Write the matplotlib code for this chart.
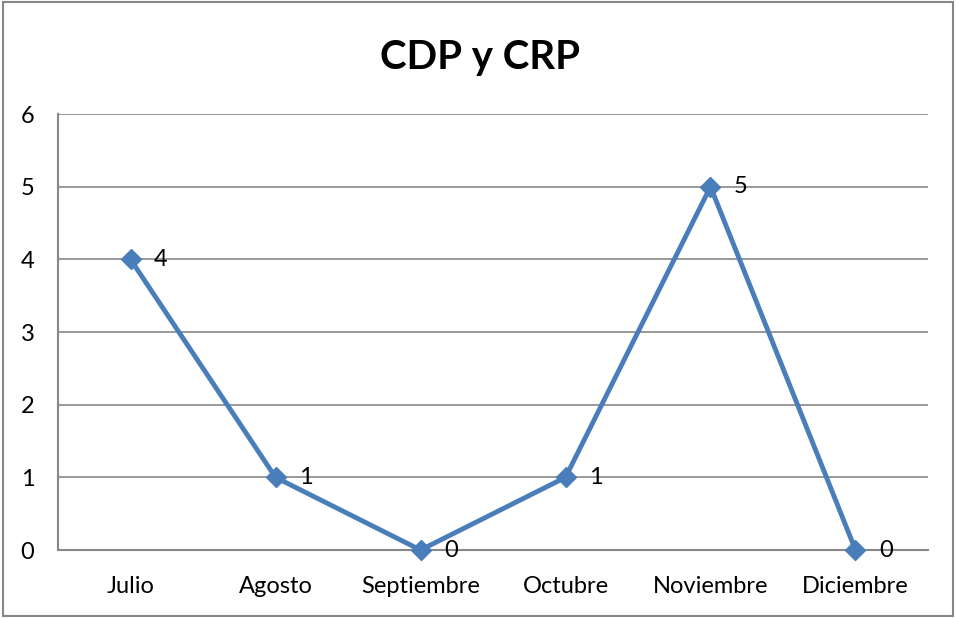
import matplotlib
matplotlib.use("Agg")
import matplotlib.pyplot as plt
from matplotlib.patches import Rectangle

months = ["Julio", "Agosto", "Septiembre", "Octubre", "Noviembre", "Diciembre"]
values = [4, 1, 0, 1, 5, 0]
yticks = [0, 1, 2, 3, 4, 5, 6]

plt.rcParams['font.family'] = ['Lato', 'DejaVu Sans']

fig = plt.figure(figsize=(9.56, 6.18), dpi=100)
ax = fig.add_axes([0.0607, 0.11, 0.91, 0.7055])

x = list(range(len(months)))
ax.plot(x, values, color="#4a7ebb", linewidth=3.5, marker="D", markersize=10,
        markerfacecolor="#4a7ebb", markeredgecolor="#4a7ebb", zorder=3, clip_on=False)

for xi, v in zip(x, values):
    ax.annotate(str(v), (xi, v), xytext=(17, 0), textcoords="offset points",
                ha="left", va="center", fontsize=17, color="black", zorder=4)

ax.set_xlim(-0.5, len(months) - 0.5)
ax.set_ylim(0, 6)
ax.set_yticks(yticks)
ax.set_xticks(x)
ax.set_xticklabels(months)
ax.tick_params(axis="both", length=0, labelsize=17, colors="black")
ax.tick_params(axis="y", pad=17)
ax.tick_params(axis="x", pad=19)
ax.yaxis.grid(True, color="#878787", linewidth=1.2)
ax.set_axisbelow(True)
for side in ["top", "right"]:
    ax.spines[side].set_visible(False)
for side in ["left", "bottom"]:
    ax.spines[side].set_color("#878787")
    ax.spines[side].set_linewidth(1.5)

fig.suptitle("CDP y CRP", x=0.502, y=0.937, fontsize=29, fontweight="bold")

fig.patches.append(Rectangle((0.003, 0.003), 0.994, 0.994, transform=fig.transFigure,
                             fill=False, edgecolor="#878787", linewidth=1.5))

fig.savefig("out.png", dpi=100)
